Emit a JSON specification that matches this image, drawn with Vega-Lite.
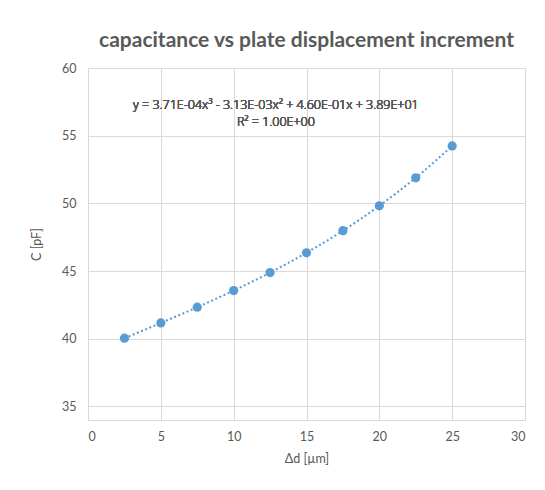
{
  "$schema": "https://vega.github.io/schema/vega-lite/v6.json",
  "width": 437,
  "height": 352,
  "autosize": "none",
  "padding": {"left": 88, "top": 68, "right": 20, "bottom": 70},
  "background": "white",
  "title": {
    "text": "capacitance vs plate displacement increment",
    "font": "Lato",
    "fontSize": 21,
    "fontWeight": "bold",
    "color": "#595959",
    "anchor": "middle",
    "offset": 11
  },
  "config": {
    "view": {"stroke": "#d9d9d9"},
    "axis": {
      "labelFont": "Lato",
      "labelFontSize": 12.5,
      "labelColor": "#595959",
      "titleFont": "Lato",
      "titleFontSize": 12.5,
      "titleFontWeight": "normal",
      "titleColor": "#595959",
      "gridColor": "#d9d9d9",
      "domain": false,
      "ticks": false
    }
  },
  "data": {
    "values": [
      {"d": 2.5, "C": 40.04},
      {"d": 5, "C": 41.17},
      {"d": 7.5, "C": 42.33},
      {"d": 10, "C": 43.56},
      {"d": 12.5, "C": 44.89},
      {"d": 15, "C": 46.35},
      {"d": 17.5, "C": 47.98},
      {"d": 20, "C": 49.82},
      {"d": 22.5, "C": 51.89},
      {"d": 25, "C": 54.24}
    ]
  },
  "layer": [
    {
      "mark": {"type": "line", "interpolate": "monotone", "color": "#5B9BD5", "strokeWidth": 2, "strokeDash": [2, 2.5]},
      "encoding": {
        "x": {"field": "d", "type": "quantitative", "scale": {"domain": [0, 30]}, "axis": {"values": [0, 5, 10, 15, 20, 25, 30], "title": "Δd [µm]", "labelPadding": 10, "titlePadding": 10}},
        "y": {"field": "C", "type": "quantitative", "scale": {"domain": [35, 60], "zero": false}, "axis": {"values": [35, 40, 45, 50, 55, 60], "title": "C [pF]", "labelPadding": 12, "titlePadding": 18}}
      }
    },
    {
      "mark": {"type": "circle", "color": "#5B9BD5", "opacity": 1, "size": 85},
      "encoding": {
        "x": {"field": "d", "type": "quantitative"},
        "y": {"field": "C", "type": "quantitative"}
      }
    },
    {
      "mark": {"type": "text", "font": "Open Sans", "fontSize": 12.5, "fontWeight": 300, "color": "#595959", "align": "center", "baseline": "middle"},
      "encoding": {
        "x": {"datum": 12.9},
        "y": {"datum": 57.25},
        "text": {"value": "y = 3.71E-04x³ - 3.13E-03x² + 4.60E-01x + 3.89E+01"}
      }
    },
    {
      "mark": {"type": "text", "font": "Open Sans", "fontSize": 12.5, "fontWeight": 300, "color": "#595959", "align": "center", "baseline": "middle"},
      "encoding": {
        "x": {"datum": 12.9},
        "y": {"datum": 56.0},
        "text": {"value": "R² = 1.00E+00"}
      }
    }
  ]
}
